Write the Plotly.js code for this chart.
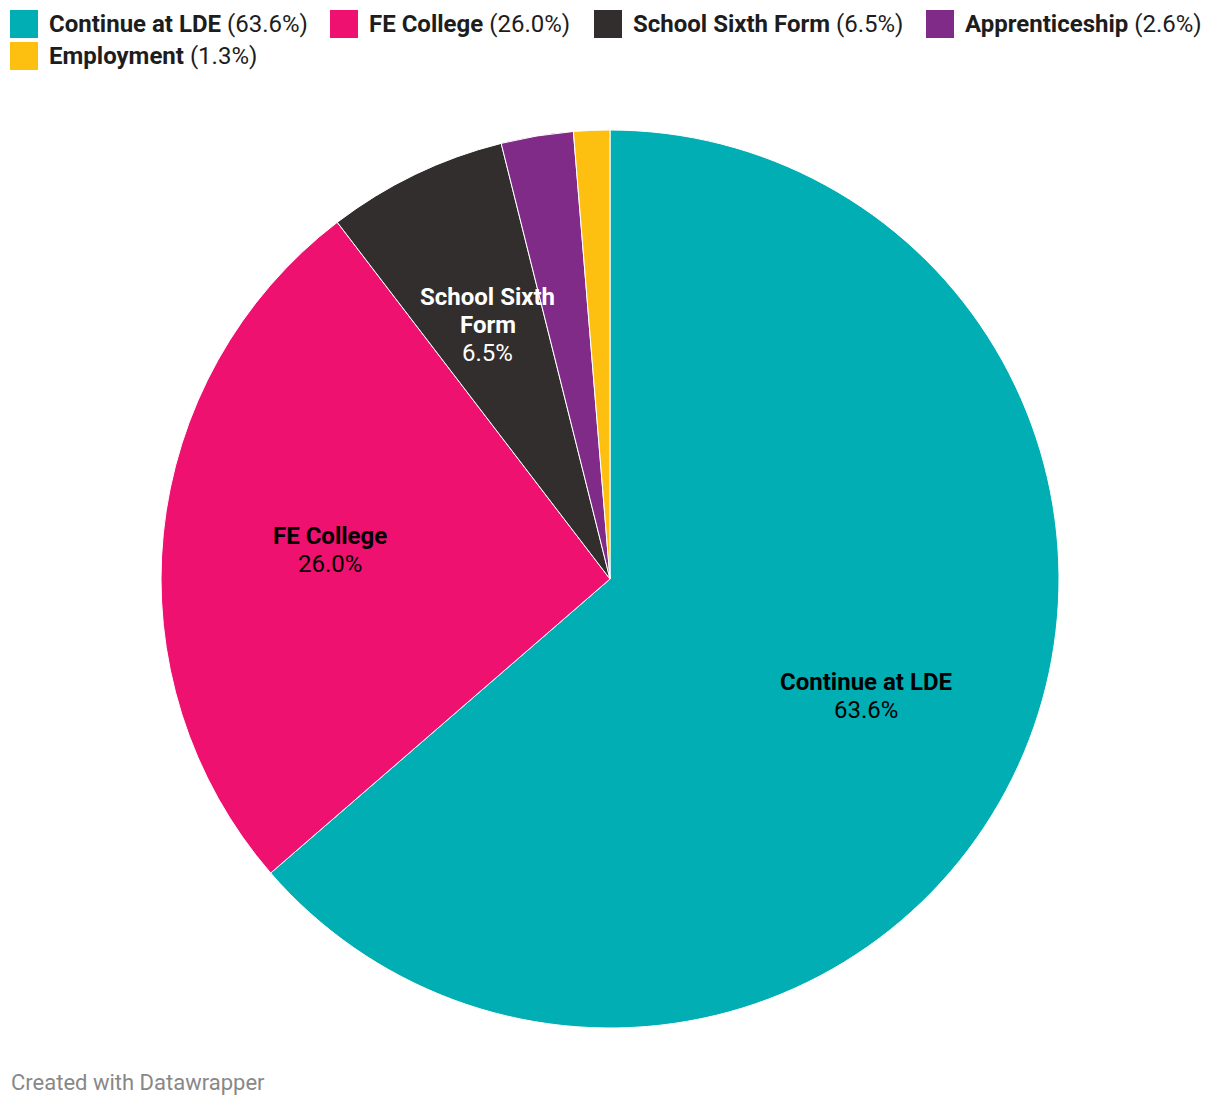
<!DOCTYPE html>
<html>
<head>
<meta charset="utf-8">
<script src="https://cdn.plot.ly/plotly-3.0.1.min.js"></script>
<style>
  html, body { margin: 0; padding: 0; background: #fff; }
  #plot { width: 1220px; height: 1106px; }
</style>
</head>
<body>
<div id="plot"></div>
<script>
// Destinations after LDE (student counts, 77 in total)
const destinations = ['Continue at LDE', 'FE College', 'School Sixth Form', 'Apprenticeship', 'Employment'];
const counts = [49, 20, 5, 2, 1];
const sliceColors = ['#00aeb4', '#ee1170', '#332e2e', '#812b89', '#fdc010'];
// in-slice label lines (empty = no label drawn)
const sliceLabels = [['Continue at LDE'], ['FE College'], ['School Sixth', 'Form'], [], []];
const labelColors = ['#000000', '#000000', '#ffffff', '', ''];

const W = 1220, H = 1106;
// pie geometry in pixels
const cx = 610, cy = 579, R = 449;
const lineGap = 28;

const total = counts.reduce((a, b) => a + b, 0);
const pct = counts.map(v => (v / total * 100).toFixed(1));

const pieTrace = {
    type: 'pie',
    labels: destinations,
    values: counts,
    sort: false,
    direction: 'clockwise',
    rotation: 0,
    marker: { colors: sliceColors, line: { color: '#ffffff', width: 1 } },
    textinfo: 'none',
    hoverinfo: 'label+percent',
    showlegend: false,
    domain: {
        x: [(cx - R) / W, (cx + R) / W],
        y: [(H - cy - R) / H, (H - cy + R) / H]
    }
};

const annotations = [];
const shapes = [];

// labels inside the slices, at the middle angle of each slice
let cum = 0;
counts.forEach((v, i) => {
    const mid = (cum + v / 2) / total * 2 * Math.PI;
    cum += v;
    if (!sliceLabels[i].length) return;
    const r = 0.627 * R;
    const px = cx + r * Math.sin(mid);
    const py = cy - r * Math.cos(mid);
    const lines = sliceLabels[i].map(t => '<b>' + t + '</b>').concat([pct[i] + '%']);
    lines.forEach((t, j) => {
        const ly = py + (j - (lines.length - 1) / 2) * lineGap;
        annotations.push({
            xref: 'paper', yref: 'paper',
            x: px / W, y: 1 - ly / H,
            xanchor: 'center', yanchor: 'middle',
            showarrow: false,
            text: t,
            font: { family: 'Roboto', size: 24, color: labelColors[i] }
        });
    });
});

// legend at the top, built by hand (square + bold name + share)
const legendX = [10, 330, 594, 926, 10];
const legendY = [24, 24, 24, 24, 56];
destinations.forEach((d, i) => {
    shapes.push({
        type: 'rect', xref: 'paper', yref: 'paper', line: { width: 0 },
        fillcolor: sliceColors[i],
        x0: legendX[i] / W, x1: (legendX[i] + 28) / W,
        y0: 1 - (legendY[i] + 14) / H, y1: 1 - (legendY[i] - 14) / H
    });
    annotations.push({
        xref: 'paper', yref: 'paper',
        x: (legendX[i] + 37) / W, y: 1 - legendY[i] / H,
        xanchor: 'left', yanchor: 'middle', showarrow: false,
        text: '<b>' + d + '</b> (' + pct[i] + '%)',
        font: { family: 'Roboto', size: 24, color: '#1d1d1d' }
    });
});

// footer credit
annotations.push({
    xref: 'paper', yref: 'paper', x: 9 / W, y: 1 - 1082 / H,
    xanchor: 'left', yanchor: 'middle', showarrow: false,
    text: 'Created with Datawrapper',
    font: { family: 'Roboto', size: 22, color: '#888888' }
});

const layout = {
    width: W, height: H,
    margin: { l: 0, r: 0, t: 0, b: 0 },
    paper_bgcolor: '#ffffff',
    plot_bgcolor: '#ffffff',
    font: { family: 'Roboto' },
    showlegend: false,
    annotations: annotations,
    shapes: shapes
};

Plotly.newPlot('plot', [pieTrace], layout, { displayModeBar: false });
</script>
</body>
</html>
